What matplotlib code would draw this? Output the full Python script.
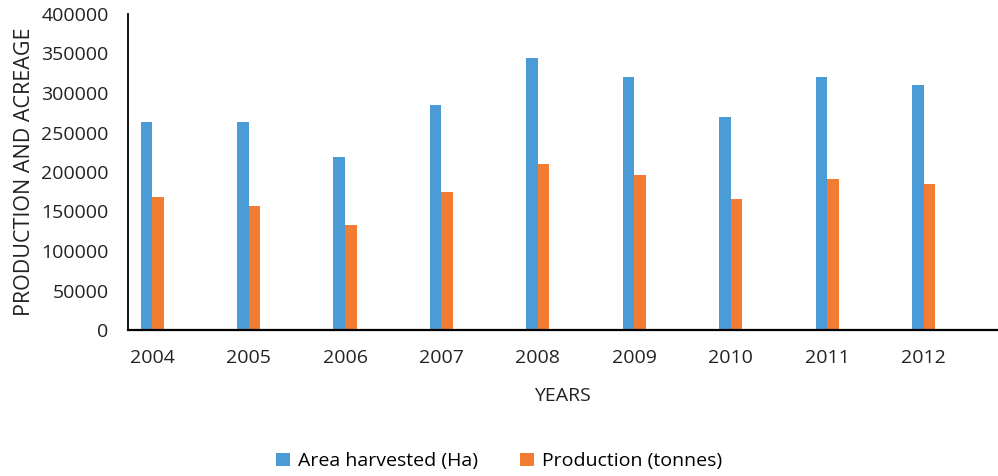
import matplotlib.pyplot as plt
import numpy as np

years = ['2004', '2005', '2006', '2007', '2008', '2009', '2010', '2011', '2012']
area_harvested = [263000, 263000, 219500, 284500, 344000, 320000, 269300, 320000, 309800]
production = [168800, 156600, 132500, 174700, 210500, 195800, 165800, 191200, 185200]

blue = '#4a9bd6'
orange = '#f17c32'

plt.rcParams['font.family'] = ['Open Sans', 'DejaVu Sans']

fig = plt.figure(figsize=(9.98, 4.76), dpi=100)
ax = fig.add_axes([128 / 998, 1 - 330 / 476, 869 / 998, 316 / 476])

x = np.arange(len(years))
w = 0.12
ax.bar(x - w / 2, area_harvested, width=w, color=blue, label='Area harvested (Ha)')
ax.bar(x + w / 2, production, width=w, color=orange, label='Production (tonnes)')

ax.set_xlim(-0.25, len(years) - 1 + 0.76)
ax.set_ylim(0, 400000)
ax.set_yticks(range(0, 400001, 50000))
ax.set_xticks(x)
ax.set_xticklabels(years)

ax.spines['top'].set_visible(False)
ax.spines['right'].set_visible(False)
ax.spines['left'].set_linewidth(1.3)
ax.spines['bottom'].set_linewidth(1.6)
ax.tick_params(axis='both', length=0, labelsize=14, colors='#222222')
ax.tick_params(axis='y', pad=14)
ax.tick_params(axis='x', pad=14)

ax.set_xlabel('YEARS', fontsize=14, labelpad=14, color='#222222')
ax.set_ylabel('PRODUCTION AND ACREAGE', fontsize=15.5, labelpad=4, color='#222222')

fig.legend(loc='lower center', ncol=2, frameon=False, fontsize=14,
           handlelength=0.7, handleheight=0.7, handletextpad=0.4,
           columnspacing=2.2, bbox_to_anchor=(0.5, -0.025))

fig.savefig('out.png', dpi=100)
